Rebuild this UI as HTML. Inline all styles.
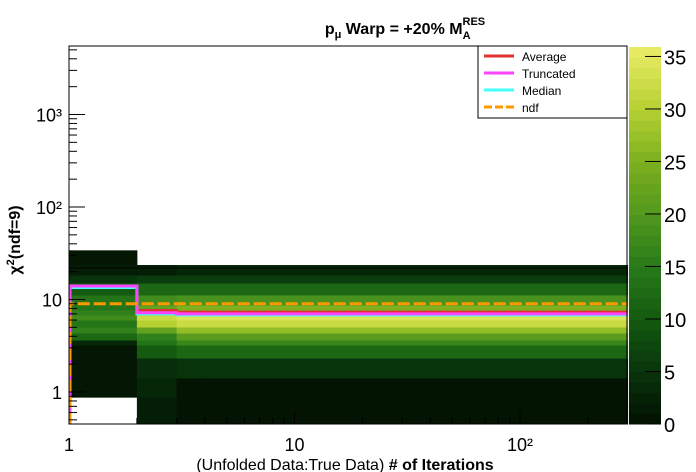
<!DOCTYPE html>
<html><head><meta charset="utf-8"><style>
body{margin:0;background:#fff}
svg{display:block;font-family:"Liberation Sans",sans-serif}
</style></head><body>
<svg id="c" width="696" height="472" xmlns="http://www.w3.org/2000/svg">
<text x="405" y="34" text-anchor="middle" font-size="16" font-weight="bold">p<tspan font-size="11" dy="4">μ</tspan><tspan dy="-4"> Warp = +20% M</tspan><tspan font-size="11" dy="5">A</tspan><tspan font-size="11" dx="-8" dy="-14">RES</tspan></text>
<text transform="translate(20,240) rotate(-90)" text-anchor="middle" font-size="16" font-weight="bold">χ<tspan font-size="11" dy="-6">2</tspan><tspan dy="6">(ndf=9)</tspan></text>
<text x="345" y="470" text-anchor="middle" font-size="16">(Unfolded Data:True Data)   <tspan font-weight="bold"># of Iterations</tspan></text>
<g id="heat"></g><g id="lines"></g><g id="axes"></g><g id="pal"></g>
<g>
<rect x="478" y="46" width="149" height="72" fill="#fff" stroke="#000"/>
<line x1="484" y1="56" x2="514" y2="56" stroke="#e03030" stroke-width="3"/><text x="522" y="61" font-size="12">Average</text>
<line x1="484" y1="73" x2="514" y2="73" stroke="#ff44ff" stroke-width="3"/><text x="522" y="78" font-size="12">Truncated</text>
<line x1="484" y1="90" x2="514" y2="90" stroke="#44ffff" stroke-width="3"/><text x="522" y="95" font-size="12">Median</text>
<line x1="484" y1="107" x2="514" y2="107" stroke="#ff9900" stroke-width="3" stroke-dasharray="8,3"/><text x="522" y="112" font-size="12">ndf</text>
</g>
</svg>
<script>
const colEdges=[1,2,3,4,5,7,10,20,50,100,300];
const colProfile=[0,1,2,2,2,2,2,2,2,2];
const rowEdges=[0.45,0.88,1.0,1.42,2.33,3.22,3.65,4.34,5.04,6.0,6.8,7.7,8.7,11.2,15.1,18.4,23.6,34];
const profile0=[null,1,1,1,1,3,12,16,14,18,16,14,14,10,5,2,1];
const profile1=[2,3,3,4,10,14,16,22,30,32,24,22,18,12,6,2,null];
const profile2=[0.5,0.5,0.5,5,12,17,21,27,32,34,28,25,19,12,6,3,null];
const profiles=[profile0,profile1,profile2];
const truncatedVals=[14,7.2,7.0];
const medianVals=[13.5,7.0,6.8];
const averageVals=[null,7.6,7.3];
const ndf=9;
const paletteTicks=[0,5,10,15,20,25,30,35];
const zMax=35.9;
const X0=69,X1=627,Y0=46,Y1=424;
const xs=v=>X0+225.5*Math.log10(v);
const ys=v=>392-92.5*Math.log10(v);
const zs=v=>Y1-(v/zMax)*(Y1-47);
const stops=[[0,[2,16,2]],[5,[8,52,12]],[10,[20,90,16]],[15,[40,122,26]],[20,[82,152,30]],[25,[124,176,30]],[30,[182,208,50]],[35.9,[234,238,104]]];
function col(v){for(let i=1;i<stops.length;i++){if(v<=stops[i][0]){const a=stops[i-1],b=stops[i],t=(v-a[0])/(b[0]-a[0]);return 'rgb('+a[1].map((c,k)=>Math.round(c+(b[1][k]-c)*t)).join(',')+')';}}return 'rgb(234,238,104)';}
const NS='http://www.w3.org/2000/svg';
function mk(p,t,a){const e=document.createElementNS(NS,t);for(const k in a)e.setAttribute(k,a[k]);p.appendChild(e);return e;}
const heat=document.getElementById('heat');
for(let c=0;c<colProfile.length;c++){const pr=profiles[colProfile[c]];
 for(let r=0;r<pr.length;r++){if(pr[r]===null)continue;
  const y1=Math.max(Y0,ys(rowEdges[r+1])),y2=Math.min(Y1,ys(rowEdges[r]));
  const e=mk(heat,'rect',{x:xs(colEdges[c]),y:y1,width:xs(colEdges[c+1])-xs(colEdges[c])+0.5,height:y2-y1+0.5,fill:col(pr[r])});
  
  }}
const lines=document.getElementById('lines');
function step(vals,color,name,dash){let d='';
 for(let c=0;c<colProfile.length;c++){const v=vals[colProfile[c]];if(v===null)continue;const y=ys(v);
  d+=(d===''?'M':'L')+xs(colEdges[c])+','+y+' L'+xs(colEdges[c+1])+','+y+' ';}
 const e=mk(lines,'path',{d:d,fill:'none',stroke:color,'stroke-width':3});if(dash)e.setAttribute('stroke-dasharray',dash);
 
 }
step(averageVals,'#e03030','average-line');
step(medianVals,'#44ffff','median-line');
step(truncatedVals,'#ff44ff','truncated-line');
let tv=mk(lines,'line',{x1:X0+1,y1:ys(truncatedVals[0]),x2:X0+1,y2:Y1,stroke:'#ff44ff','stroke-width':3});


let nd=mk(lines,'path',{d:'M'+(X0+1)+','+Y1+' L'+(X0+1)+','+ys(ndf)+' L'+X1+','+ys(ndf),fill:'none',stroke:'#ff9900','stroke-width':3,'stroke-dasharray':'12,4'});


const ax=document.getElementById('axes');
mk(ax,'line',{x1:X0,y1:268,x2:X1,y2:268,stroke:'#000'});
mk(ax,'rect',{x:X0,y:Y0,width:X1-X0,height:Y1-Y0,fill:'none',stroke:'#000'});
[[1,'1'],[10,'10'],[100,'10²']].forEach(([v,l])=>{const t=mk(ax,'text',{x:xs(v),y:451,'text-anchor':'middle','font-size':18});t.textContent=l;
 
 mk(ax,'line',{x1:xs(v),y1:Y1,x2:xs(v),y2:Y1-12,stroke:'#000'});});
for(let d=1;d<=300;d*=10)for(let m=2;m<10;m++){const v=d*m;if(v>298)break;mk(ax,'line',{x1:xs(v),y1:Y1,x2:xs(v),y2:Y1-6,stroke:'#000'});}
[[1,'1'],[10,'10'],[100,'10²'],[1000,'10³']].forEach(([v,l])=>{const t=mk(ax,'text',{x:62,y:ys(v)+7,'text-anchor':'end','font-size':18});t.textContent=l;
 
 mk(ax,'line',{x1:X0,y1:ys(v),x2:X0+16,y2:ys(v),stroke:'#000'});});
for(let d=0.1;d<=1000;d*=10)for(let m=2;m<10;m++){const v=d*m;const y=ys(v);if(y<Y0||y>Y1)continue;mk(ax,'line',{x1:X0,y1:y,x2:X0+8,y2:y,stroke:'#000'});}
const pal=document.getElementById('pal');
for(let i=0;i<36;i++){const a=i*zMax/36,b=(i+1)*zMax/36;mk(pal,'rect',{x:629,y:zs(b),width:32,height:zs(a)-zs(b)+0.5,fill:col((a+b)/2)});}
paletteTicks.forEach(v=>{mk(pal,'line',{x1:645,y1:zs(v),x2:661,y2:zs(v),stroke:'#000'});
 const t=mk(pal,'text',{x:664,y:zs(v)+8,'font-size':20});t.textContent=v;
 });
</script>
</body></html>
